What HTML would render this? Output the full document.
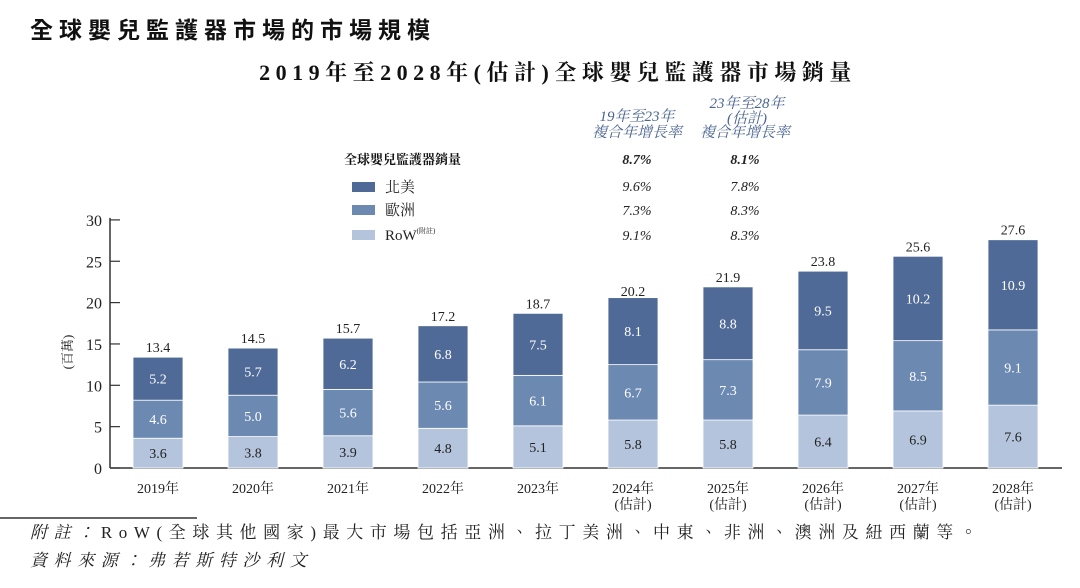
<!DOCTYPE html>
<html><head><meta charset="utf-8"><style>
body{margin:0;background:#fff;width:1080px;height:583px;overflow:hidden;font-family:"Liberation Serif","Noto Serif CJK SC",serif;}
</style></head><body>
<svg width="1080" height="583" xmlns="http://www.w3.org/2000/svg" font-family="Liberation Serif, Noto Serif CJK TC, serif">
<text x="30" y="38" font-size="23" font-weight="bold" font-family="Liberation Sans, Noto Sans CJK TC, sans-serif" letter-spacing="6" fill="#111">全球嬰兒監護器市場的市場規模</text>
<text x="558" y="80" font-size="22" font-weight="bold" text-anchor="middle" letter-spacing="5.5" fill="#111">2019年至2028年(估計)全球嬰兒監護器市場銷量</text>
<g font-style="italic" fill="#4a6491" font-size="15" text-anchor="middle">
<text x="637" y="121">19年至23年</text><text x="637" y="137">複合年增長率</text>
<text x="747" y="108">23年至28年</text><text x="747" y="123">(估計)</text><text x="745" y="137">複合年增長率</text>
</g>
<text x="344" y="164" font-size="13" font-weight="bold" fill="#111">全球嬰兒監護器銷量</text>
<g font-size="15" fill="#222">
<rect x="352" y="182" width="23" height="10" fill="#4f6a96"/><text x="385" y="192">北美</text>
<rect x="352" y="205" width="23" height="10" fill="#6c89b2"/><text x="385" y="215">歐洲</text>
<rect x="352" y="230" width="23" height="10" fill="#b4c4dc"/><text x="385" y="240">RoW<tspan font-size="7" dy="-7">(附註)</tspan></text>
</g>
<g id="cagr" font-style="italic" font-size="14" fill="#222" text-anchor="middle"></g>
<g id="plot"></g>
<line x1="0" y1="518" x2="197" y2="518" stroke="#333" stroke-width="1.5"/>
<text x="30" y="538" font-size="17" fill="#222" letter-spacing="6.6"><tspan font-style="italic">附註：</tspan>RoW(全球其他國家)最大市場包括亞洲、拉丁美洲、中東、非洲、澳洲及紐西蘭等。</text>
<text x="30" y="566" font-size="17" font-style="italic" fill="#222" letter-spacing="6.6">資料來源：弗若斯特沙利文</text>
</svg>
<script>
const years=["2019年","2020年","2021年","2022年","2023年","2024年","2025年","2026年","2027年","2028年"];
const estimated=[false,false,false,false,false,true,true,true,true,true];
const row=[3.6,3.8,3.9,4.8,5.1,5.8,5.8,6.4,6.9,7.6];
const europe=[4.6,5.0,5.6,5.6,6.1,6.7,7.3,7.9,8.5,9.1];
const northAmerica=[5.2,5.7,6.2,6.8,7.5,8.1,8.8,9.5,10.2,10.9];
const totals=[13.4,14.5,15.7,17.2,18.7,20.2,21.9,23.8,25.6,27.6];
const yTicks=[0,5,10,15,20,25,30];
const cagr1=["8.7%","9.6%","7.3%","9.1%"];
const cagr2=["8.1%","7.8%","8.3%","8.3%"];
const NS="http://www.w3.org/2000/svg";
const y=v=>468-v*8.27;
const x=i=>158+i*95;
const plot=document.getElementById('plot');
function mk(t,a,p){const e=document.createElementNS(NS,t);for(const k in a)e.setAttribute(k,a[k]);(p||plot).appendChild(e);return e;}
const cg=document.getElementById('cagr');
const cy=[164,191,215,240];
cagr1.forEach((s,i)=>{const t=mk('text',{x:637,y:cy[i],'font-weight':i==0?'bold':'normal'},cg);t.textContent=s;

});
cagr2.forEach((s,i)=>{const t=mk('text',{x:745,y:cy[i],'font-weight':i==0?'bold':'normal'},cg);t.textContent=s;

});
const ax=mk('line',{x1:110,y1:y(30)-2,x2:110,y2:468,stroke:'#333','stroke-width':1.5});


const bx=mk('line',{x1:110,y1:468,x2:1062,y2:468,stroke:'#333','stroke-width':1.5});


yTicks.forEach(v=>{mk('line',{x1:110,y1:y(v),x2:120,y2:y(v),stroke:'#333','stroke-width':1.2});
const t=mk('text',{x:102,y:y(v)+6,'text-anchor':'end','font-size':16,fill:'#222'});t.textContent=v;

});
const yl=mk('text',{transform:'translate(72,352) rotate(-90)','text-anchor':'middle','font-size':13,fill:'#222'});yl.textContent='(百萬)';


const series=[[row,'#b4c4dc','#222','bar-row'],[europe,'#6c89b2','#fff','bar-europe'],[northAmerica,'#4f6a96','#fff','bar-north-america']];
years.forEach((yr,i)=>{let base=0;const cx=x(i);
series.forEach(([arr,col,tc,nm])=>{const v=arr[i];
const r=mk('rect',{x:cx-25,y:y(base+v),width:50,height:v*8.27,fill:col,stroke:'#fff','stroke-width':0.8});


const t=mk('text',{x:cx,y:y(base+v/2)+5,'text-anchor':'middle','font-size':14,fill:tc});t.textContent=v.toFixed(1);


base+=v;});
const tt=mk('text',{x:cx,y:y(totals[i])-5,'text-anchor':'middle','font-size':14,fill:'#222'});tt.textContent=totals[i].toFixed(1);


const xl=mk('text',{x:cx,y:493,'text-anchor':'middle','font-size':14,fill:'#222'});xl.textContent=yr;


if(estimated[i]){const e=mk('text',{x:cx,y:509,'text-anchor':'middle','font-size':14,fill:'#222'});e.textContent='(估計)';

}
});
</script>
</body></html>
